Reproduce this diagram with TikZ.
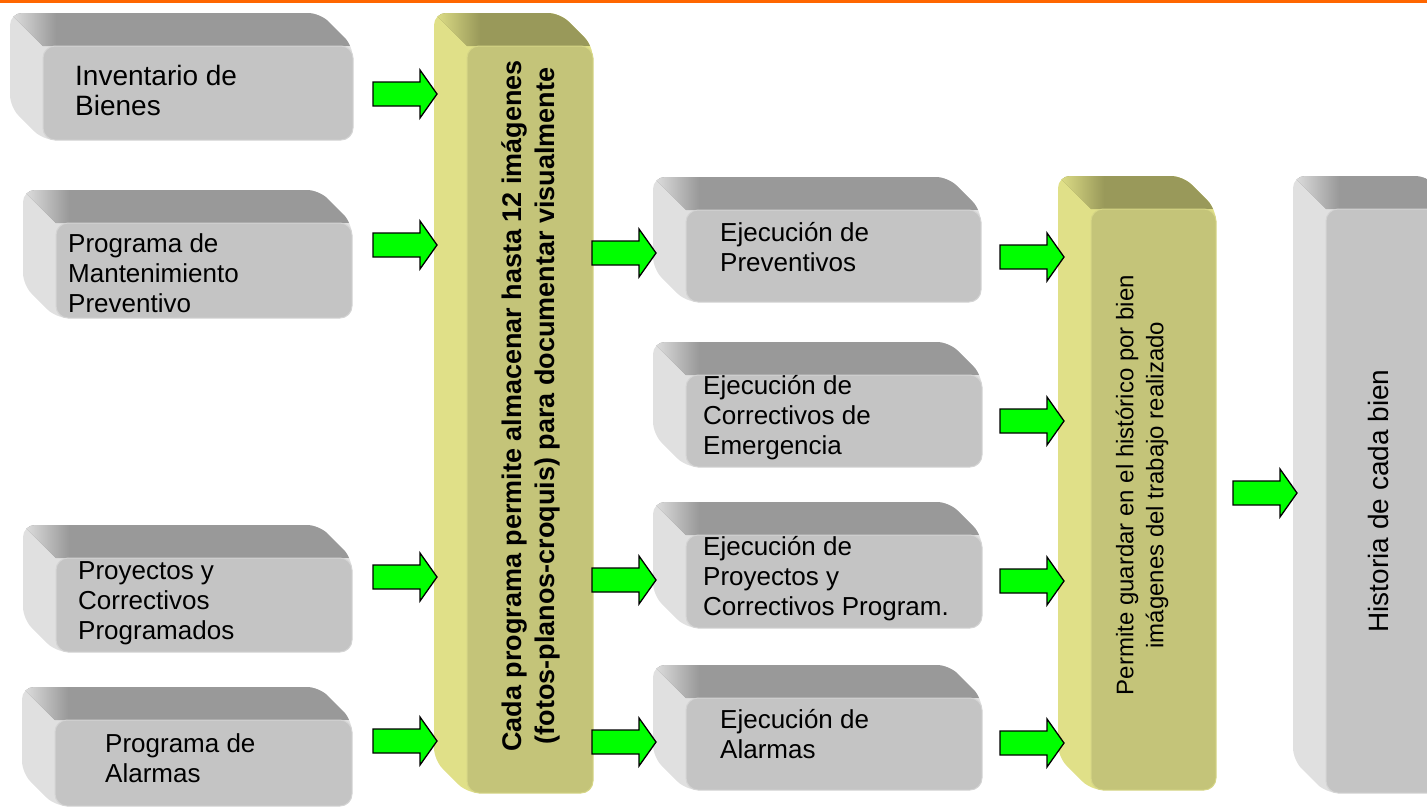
\documentclass[tikz,border=0pt]{standalone}
\usepackage{fontspec}
\setmainfont{Liberation Sans}
\definecolor{gF}{RGB}{196,196,196}
\definecolor{gT}{RGB}{153,153,153}
\definecolor{gL}{RGB}{224,224,224}
\definecolor{gR}{RGB}{212,212,212}
\definecolor{yF}{RGB}{196,196,121}
\definecolor{yT}{RGB}{153,153,90}
\definecolor{yL}{RGB}{224,224,136}
\definecolor{yR}{RGB}{214,214,134}
\definecolor{arrowgreen}{RGB}{0,255,0}
\definecolor{topline}{RGB}{255,102,0}
\tikzset{
  face/.style={rectangle, rounded corners=12pt, line width=1pt, inner sep=0pt},
  garrowstyle/.style={fill=arrowgreen, draw=black, line width=1.3pt, line join=miter},
  lbl/.style={anchor=west, align=left, inner sep=0pt, font=\fontsize{26}{30}\selectfont},
}
\newcommand\bevelbox[6]{%
 \pgfmathsetmacro\bvXa{#2+33}\pgfmathsetmacro\bvYa{#3+33}%
 \pgfmathsetmacro\bvXb{#4-33}\pgfmathsetmacro\bvYb{#5-33}%
 \pgfmathsetmacro\bvW{#4-#2-33}\pgfmathsetmacro\bvH{#5-#3-33}%
 \pgfmathsetmacro\bvCx{(#2+33+#4)/2}\pgfmathsetmacro\bvCy{(#3+33+#5)/2}%
 \begin{scope}
  \clip[rounded corners=12pt] (#2,#3) -- (\bvXb,#3) -- (#4,\bvYa) -- (#4,#5) -- (\bvXa,#5) -- (#2,\bvYb) -- cycle;
  \fill[#6L] (#2,#3) rectangle (#4,#5);
  \begin{scope}
   \clip (#2,#3) -- (\bvXb,#3) -- (#4,\bvYa) -- (\bvXa,\bvYa) -- cycle;
   \fill[#6T] (#2,#3) rectangle (#4,\bvYa);
   \shade[left color=#6L,right color=#6T] (#2,#3) rectangle ({#2+46},\bvYa);
  \end{scope}
 \end{scope}
 \node[face, fill=#6F, draw=#6R, minimum width=\bvW pt, minimum height=\bvH pt] (#1) at (\bvCx,\bvCy) {};
}
\newcommand\garrow[3]{%
 \coordinate (#1) at (#2,#3);
 \draw[garrowstyle] (#1) ++(0,-12) -- ++(47,0) -- ++(0,-12) -- ++(17,24) -- ++(-17,24) -- ++(0,-12) -- ++(-47,0) -- cycle;
}
\begin{document}
\begin{tikzpicture}[x=1pt,y=-1pt]
\useasboundingbox (0,0) rectangle (1427,807);
\clip (0,0) rectangle (1427,807);
\fill[topline] (0,0) rectangle (1427,2.5);

% left column
\bevelbox{inv}{10}{13}{353}{140}{g}
\bevelbox{pmp}{23}{190}{352}{318}{g}
\bevelbox{pcp}{23}{525}{352}{652}{g}
\bevelbox{pal}{22}{687}{352}{806}{g}
\node[lbl, font=\fontsize{28}{30}\selectfont] (tinv) at (75,90) {Inventario de\\Bienes};
\node[lbl] (tpmp) at (68,273) {Programa de\\Mantenimiento\\Preventivo};
\node[lbl] (tpcp) at (78,603) {Proyectos y\\Correctivos\\Programados};
\node[lbl] (tpal) at (105,758) {Programa de\\Alarmas};

% first yellow bar
\bevelbox{bar1}{434}{13}{593}{793}{y}
\node[rotate=90, align=center, inner sep=0pt, font=\fontsize{27}{33}\bfseries\selectfont] (tbar1) at (531,406)
  {Cada programa permite almacenar hasta 12 imágenes\\(fotos-planos-croquis) para documentar visualmente};

% middle column
\bevelbox{ejp}{653}{177}{981}{302}{g}
\bevelbox{eje}{653}{342}{982}{467}{g}
\bevelbox{ejc}{653}{502}{982}{628}{g}
\bevelbox{eja}{653}{665}{982}{790}{g}
\node[lbl] (tejp) at (720,247) {Ejecución de\\Preventivos};
\node[lbl] (teje) at (703,418) {Ejecución de\\Correctivos de\\Emergencia};
\node[lbl] (tejc) at (703,579) {Ejecución de\\Proyectos y\\Correctivos Program.};
\node[lbl] (teja) at (720,734) {Ejecución de\\Alarmas};

% second yellow bar
\bevelbox{bar2}{1058}{176}{1216}{790}{y}
\node[rotate=90, align=center, inner sep=0pt, font=\fontsize{24}{30}\selectfont] (tbar2) at (1142,485)
  {Permite guardar en el histórico por bien\\imágenes del trabajo realizado};

% history box
\bevelbox{hist}{1293}{176}{1460}{793}{g}
\node[rotate=90, inner sep=0pt, font=\fontsize{28}{32}\selectfont] (thist) at (1378,501) {Historia de cada bien};

% arrows
\garrow{a1}{373}{94}
\garrow{a2}{373}{245}
\garrow{a3}{373}{577}
\garrow{a4}{373}{741}
\garrow{m1}{592}{253}
\garrow{m2}{592}{580}
\garrow{m3}{592}{742}
\garrow{r1}{1000}{257}
\garrow{r2}{1000}{421}
\garrow{r3}{1000}{581}
\garrow{r4}{1000}{743}
\garrow{f1}{1233}{493}
\end{tikzpicture}
\end{document}
